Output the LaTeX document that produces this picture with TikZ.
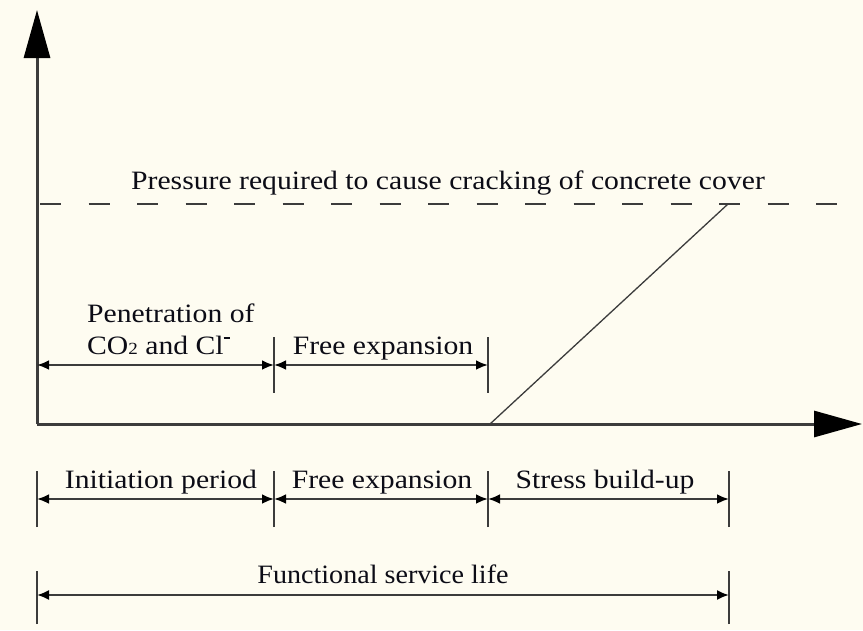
\documentclass[tikz,border=0pt]{standalone}
\usepackage{fontspec}
\setmainfont{Liberation Serif}
\usetikzlibrary{arrows.meta}
\definecolor{bgc}{HTML}{FEFCF1}
\definecolor{linec}{HTML}{3C3C3C}
\definecolor{txtc}{HTML}{0C0C16}
\newcommand{\stx}[2][1.12]{\scalebox{#1}[1]{#2}}
\begin{document}
\begin{tikzpicture}[x=1pt,y=-1pt,
  txt/.style={font=\fontsize{26.5}{30}\selectfont, text=txtc, inner sep=0pt, anchor=base},
  axis/.style={draw=linec, line width=3pt},
  bigtip/.style={-{Triangle[length=48pt,width=26pt,color=black]}},
  dimline/.style={draw=linec, line width=2.6pt, {Latex[length=12pt,width=10pt,color=black]}-{Latex[length=12pt,width=10pt,color=black]}},
  tick/.style={draw=linec, line width=1.8pt},
  dashline/.style={draw=linec, line width=1.8pt, dash pattern=on 21pt off 27.5pt},
  slope/.style={draw=linec, line width=1.3pt}]
\useasboundingbox[fill=bgc] (0,0) rectangle (863,630);
% axes
\coordinate (O) at (37,424);
\coordinate (Ytip) at (37,10);
\coordinate (Xtip) at (862,424);
\draw[axis, bigtip] (O) -- (Ytip);
\draw[axis, bigtip] (O) -- (Xtip);
% critical pressure level
\coordinate (D0) at (40,204);
\coordinate (D1) at (840,204);
\draw[dashline] (D0) -- (D1);
\node[txt] (press) at (448,189) {\stx{Pressure required to cause cracking of concrete cover}};
% stress build-up slope
\coordinate (S0) at (490,424);
\coordinate (S1) at (728,204);
\draw[slope] (S0) -- (S1);
% upper dimension row
\coordinate (U0) at (37,365);
\coordinate (U1) at (274,365);
\coordinate (U2) at (488,365);
\coordinate (U1t) at (274,337);
\coordinate (U1b) at (274,393);
\coordinate (U2t) at (488,337);
\coordinate (U2b) at (488,393);
\draw[tick] (U1t) -- (U1b);
\draw[tick] (U2t) -- (U2b);
\draw[dimline] (U0) -- (U1);
\draw[dimline] (U1) -- (U2);
\node[txt, anchor=base west] (pen1) at (87,322) {\stx{Penetration of}};
\node[txt, anchor=base west] (pen2) at (87,354) {\stx{CO{\fontsize{17}{17}\selectfont 2} and Cl\raisebox{15pt}{\rule{5.5pt}{1.8pt}}}};
\node[txt] (free1) at (383,354) {\stx{Free expansion}};
% lower dimension row
\coordinate (L0) at (37,499);
\coordinate (L1) at (274,499);
\coordinate (L2) at (488,499);
\coordinate (L3) at (729,499);
\foreach \n in {L0,L1,L2,L3}{
  \draw[tick] ([yshift=-28pt]\n) -- ([yshift=28pt]\n);
}
\draw[dimline] (L0) -- (L1);
\draw[dimline] (L1) -- (L2);
\draw[dimline] (L2) -- (L3);
\node[txt] (init) at (161,488) {\stx{Initiation period}};
\node[txt] (free2) at (382,488) {\stx{Free expansion}};
\node[txt] (stress) at (605,488) {\stx{Stress build-up}};
% functional service life
\coordinate (F0) at (37,595);
\coordinate (F1) at (729,595);
\draw[tick] ([yshift=-29pt]F0) -- ([yshift=24pt]F0);
\draw[tick] ([yshift=-29pt]F1) -- ([yshift=24pt]F1);
\draw[dimline, line width=2pt] (F0) -- (F1);
\node[txt] (func) at (383,583) {\stx[1.06]{Functional service life}};
\end{tikzpicture}
\end{document}
